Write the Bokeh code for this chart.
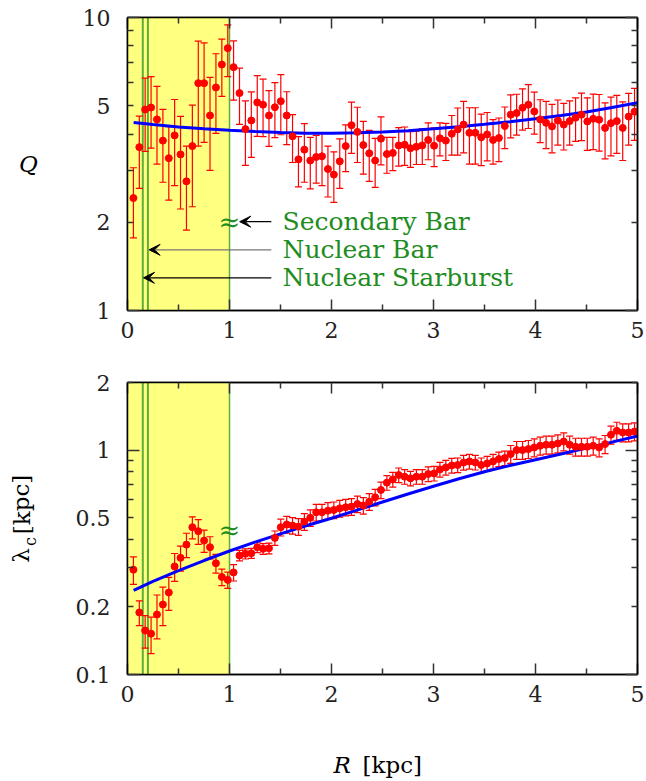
import numpy as np
from bokeh.plotting import figure
from bokeh.models import (ColumnDataSource, Whisker, TeeHead, BoxAnnotation, Span, Range1d,
                          FixedTicker, LinearAxis, LogAxis, Arrow, VeeHead)
from bokeh.layouts import column, row
from bokeh.core.properties import value
from bokeh.embed import file_html
from bokeh.resources import INLINE

# ---------------- data ----------------
R = [0.058, 0.116, 0.173, 0.231, 0.289, 0.347, 0.405, 0.462, 0.520, 0.578,
     0.636, 0.694, 0.751, 0.809, 0.867, 0.925, 0.983, 1.040, 1.098, 1.156,
     1.214, 1.272, 1.329, 1.387, 1.445, 1.503, 1.561, 1.618, 1.676, 1.734,
     1.792, 1.850, 1.907, 1.965, 2.023, 2.081, 2.139, 2.196, 2.254, 2.312,
     2.370, 2.428, 2.485, 2.543, 2.601, 2.659, 2.717, 2.774, 2.832, 2.890,
     2.948, 3.006, 3.063, 3.121, 3.179, 3.237, 3.295, 3.352, 3.410, 3.468,
     3.526, 3.584, 3.641, 3.699, 3.757, 3.815, 3.873, 3.930, 3.988, 4.046,
     4.104, 4.162, 4.219, 4.277, 4.335, 4.393, 4.451, 4.508, 4.566, 4.624,
     4.682, 4.740, 4.797, 4.855, 4.913, 4.971]

Q = [2.42, 3.61, 4.85, 4.93, 4.49, 3.80, 3.31, 3.96, 3.41, 2.76,
     3.64, 5.97, 5.97, 4.63, 5.77, 6.91, 7.86, 6.77, 5.52, 4.16,
     4.45, 5.13, 5.04, 4.63, 4.94, 5.18, 4.63, 3.93, 3.28, 3.54,
     3.25, 3.34, 3.36, 3.04, 2.91, 3.23, 3.64, 4.29, 4.07, 3.67,
     3.44, 3.25, 3.86, 3.42, 3.45, 3.66, 3.68, 3.58, 3.62, 3.66,
     3.82, 3.65, 3.87, 3.80, 4.01, 4.15, 4.31, 4.04, 4.04, 3.90,
     3.99, 3.82, 3.88, 4.26, 4.66, 4.72, 4.92, 5.04, 4.78, 4.49,
     4.37, 4.25, 4.45, 4.31, 4.43, 4.55, 4.66, 4.42, 4.51, 4.48,
     4.20, 4.36, 4.43, 4.20, 4.59, 4.77]

Q_err = [0.65, 1.00, 1.36, 1.35, 1.33, 1.06, 0.93, 1.29, 1.19, 0.88,
         1.38, 2.33, 2.22, 1.62, 1.75, 1.53, 1.58, 1.55, 1.20, 1.03,
         1.12, 1.20, 1.12, 1.00, 1.05, 1.20, 0.95, 0.73, 0.64, 0.80,
         0.65, 0.62, 0.69, 0.60, 0.57, 0.62, 0.66, 0.85, 0.87, 0.75,
         0.68, 0.62, 0.72, 0.48, 0.45, 0.55, 0.55, 0.50, 0.47, 0.51,
         0.55, 0.55, 0.50, 0.55, 0.62, 0.76, 0.86, 0.88, 0.88, 0.78,
         0.75, 0.66, 0.66, 0.69, 0.78, 0.75, 0.79, 0.86, 0.78, 0.75,
         0.80, 0.80, 0.78, 0.78, 0.76, 0.77, 0.86, 0.90, 0.97, 0.98,
         0.91, 0.99, 0.99, 0.95, 0.92, 0.96]

lam = [0.293, 0.189, 0.157, 0.152, 0.185, 0.205, 0.232, 0.303, 0.331, 0.379,
       0.453, 0.435, 0.395, 0.369, 0.313, 0.272, 0.264, 0.285, 0.339, 0.345,
       0.347, 0.369, 0.363, 0.365, 0.406, 0.453, 0.466, 0.461, 0.456, 0.480,
       0.499, 0.528, 0.528, 0.537, 0.541, 0.550, 0.556, 0.560, 0.575, 0.566,
       0.589, 0.616, 0.664, 0.716, 0.740, 0.774, 0.761, 0.748, 0.761, 0.761,
       0.782, 0.787, 0.820, 0.837, 0.854, 0.858, 0.880, 0.890, 0.881, 0.858,
       0.872, 0.890, 0.912, 0.921, 0.960, 1.000, 1.000, 1.010, 1.027, 1.045,
       1.056, 1.056, 1.070, 1.092, 1.056, 1.034, 1.034, 1.034, 1.045, 1.027,
       1.063, 1.170, 1.218, 1.197, 1.197, 1.210]

lam_err = [0.041, 0.024, 0.026, 0.028, 0.041, 0.040, 0.039, 0.043, 0.042, 0.047,
           0.051, 0.055, 0.045, 0.042, 0.030, 0.023, 0.022, 0.024, 0.018, 0.018,
           0.018, 0.020, 0.020, 0.020, 0.030, 0.039, 0.040, 0.039, 0.039, 0.041,
           0.042, 0.045, 0.045, 0.046, 0.046, 0.047, 0.047, 0.048, 0.049, 0.048,
           0.050, 0.052, 0.056, 0.054, 0.056, 0.058, 0.057, 0.056, 0.057, 0.057,
           0.059, 0.059, 0.062, 0.063, 0.064, 0.064, 0.066, 0.067, 0.066, 0.064,
           0.065, 0.067, 0.068, 0.069, 0.088, 0.092, 0.092, 0.093, 0.094, 0.096,
           0.097, 0.097, 0.098, 0.100, 0.097, 0.095, 0.095, 0.095, 0.096, 0.094,
           0.098, 0.108, 0.112, 0.110, 0.110, 0.111]

R_model = [0.06, 0.25, 0.5, 0.75, 1.0, 1.25, 1.5, 1.75, 2.0, 2.25, 2.5,
           2.75, 3.0, 3.25, 3.5, 3.75, 4.0, 4.25, 4.5, 4.75, 5.0]
Q_model = [4.38, 4.31, 4.23, 4.17, 4.12, 4.08, 4.05, 4.03, 4.03, 4.04, 4.07,
           4.11, 4.17, 4.24, 4.32, 4.41, 4.51, 4.63, 4.76, 4.93, 5.12]
lam_model = [0.237, 0.260, 0.290, 0.322, 0.355, 0.389, 0.423, 0.460, 0.497, 0.540, 0.587,
             0.637, 0.690, 0.745, 0.800, 0.853, 0.905, 0.960, 1.020, 1.085, 1.155]

x_ticks = [0, 1, 2, 3, 4, 5]
x_minor = [0.5, 1.5, 2.5, 3.5, 4.5]
Q_ticks = [1, 2, 5, 10]
Q_minor = [3, 4, 6, 7, 8, 9]
Q_long = [1, 10]
Q_short = [2, 3, 4, 5, 6, 7, 8, 9]
lam_ticks = [0.1, 0.2, 0.5, 1, 2]
lam_long = [0.1, 1]
lam_short = [0.2, 0.3, 0.4, 0.5, 0.6, 0.7, 0.8, 0.9, 2]

region_R = [0.0, 1.0]                 # shaded region
feature_R = [0.15, 0.2, 1.0]          # starburst, nuclear bar, secondary bar
feature_names = ["Nuclear Starburst", "Nuclear Bar", "Secondary Bar"]

# ---------------- style ----------------
SERIF = "DejaVu Serif"
GREEN_TXT = "#1e8c1e"
GREEN_LN = "#5fae3a"
YELLOW = "#ffff80"
TICK_FS = "22px"
LS = 60            # width of the left label strip
W = 646 - LS       # width of the panels
H1, H2, HX = 360, 354, 66
FRAME_L, FRAME_R = 127, 637


def style(ax, ticks, minor, long_in, short_in, labels, line=True):
    ax.ticker = FixedTicker(ticks=ticks, minor_ticks=minor)
    ax.major_tick_in = long_in
    ax.major_tick_out = 0
    ax.minor_tick_in = short_in
    ax.minor_tick_out = 0
    ax.axis_line_color = "black" if line else None
    ax.axis_line_width = 1.5
    ax.major_tick_line_color = "#333333" if long_in else None
    ax.minor_tick_line_color = "#333333" if short_in else None
    ax.major_tick_line_width = 1.5
    ax.minor_tick_line_width = 1.5
    if labels:
        ax.major_label_overrides = {t: ("%g" % t) for t in ticks}
        ax.major_label_text_font = SERIF
        ax.major_label_text_font_size = TICK_FS
        ax.major_label_text_color = "#222222"
    else:
        ax.major_label_overrides = {t: "" for t in ticks}
        ax.major_label_text_font_size = "0px"
        ax.major_label_standoff = 0


def base_fig(yr, height, top, bottom, ylab, ylong, yshort):
    p = figure(width=W, height=height, x_range=Range1d(0, 5), y_range=Range1d(*yr),
               y_axis_type="log", output_backend="svg", toolbar_location=None,
               min_border_left=FRAME_L - LS, min_border_right=646 - FRAME_R,
               min_border_top=top, min_border_bottom=bottom,
               background_fill_color="white", border_fill_color="white")
    p.grid.visible = False
    p.outline_line_color = "black"
    p.outline_line_width = 1.5
    xb = p.xaxis[0]
    style(xb, x_ticks, x_minor, 11, 6, True)
    xb.major_label_standoff = 11
    # inner left axis: tick marks only (long at decades, short elsewhere)
    yl = p.yaxis[0]
    style(yl, ylong, yshort, 12, 6, False)
    # outer left axis: the tick labels
    ylab_ax = LogAxis()
    style(ylab_ax, ylab, [], 0, 0, True, line=False)
    ylab_ax.major_label_standoff = 17
    p.add_layout(ylab_ax, "left")
    xt = LinearAxis()
    style(xt, x_ticks, x_minor, 11, 6, False)
    p.add_layout(xt, "above")
    yr_ax = LogAxis()
    style(yr_ax, ylong, yshort, 12, 6, False)
    p.add_layout(yr_ax, "right")
    p.add_layout(BoxAnnotation(left=region_R[0], right=region_R[1], fill_color=YELLOW,
                               fill_alpha=1.0, line_color=None, level="underlay"))
    for i, fr in enumerate(feature_R):
        p.add_layout(Span(location=fr, dimension="height", line_color=GREEN_LN,
                          line_width=2 if i < 2 else 1.5, level="underlay"))
    return p


def errorbars(p, src):
    p.add_layout(Whisker(base="R", upper="up", lower="lo", source=src, dimension="height",
                         line_color="red", line_width=1.2,
                         upper_head=TeeHead(size=7, line_color="red", line_width=1.2),
                         lower_head=TeeHead(size=7, line_color="red", line_width=1.2)))


def strip(w, h, xr):
    s = figure(width=w, height=h, x_range=Range1d(*xr), y_range=Range1d(0, h),
               output_backend="svg", toolbar_location=None, x_axis_location=None,
               y_axis_location=None, min_border=0, min_border_left=0, min_border_right=0,
               min_border_top=0, min_border_bottom=0)
    s.grid.visible = False
    s.outline_line_color = None
    return s


# ---------------- top panel: Q ----------------
p1 = base_fig((1, 10), H1, 17, 50, Q_ticks, Q_long, Q_short)
Qa, Qe = np.array(Q), np.array(Q_err)
src1 = ColumnDataSource(dict(R=R, Q=Q, up=Qa + Qe, lo=Qa - Qe))
errorbars(p1, src1)
p1.line(R_model, Q_model, line_color="#0000ff", line_width=3)
p1.scatter("R", "Q", source=src1, size=7, fill_color="red", line_color="red")

lab_y = [1.293, 1.611, 2.01]
tips = [0.157, 0.212, 1.10]
line_cols = ["black", "#777777", "black"]
for ty, tx, lc in zip(lab_y, tips, line_cols):
    p1.add_layout(Arrow(x_start=1.41, y_start=ty, x_end=tx, y_end=ty,
                        line_color=lc, line_width=1.3,
                        end=VeeHead(size=11, fill_color="black", line_color="black",
                                    line_width=1)))
p1.text(x=[1.52, 1.52, 1.52], y=lab_y, text=feature_names,
        text_font=value(SERIF), text_font_size="25px", text_color=GREEN_TXT,
        text_align="left", text_baseline="middle")
p1.text(x=[1.0], y=[2.01], text=["≈"], text_font=value(SERIF), text_font_size="26px",
        text_color=GREEN_TXT, text_align="center", text_baseline="middle")

# ---------------- bottom panel: lambda_c ----------------
p2 = base_fig((0.1, 2), H2, 22, 40, lam_ticks, lam_long, lam_short)
La, Le = np.array(lam), np.array(lam_err)
src2 = ColumnDataSource(dict(R=R, L=lam, up=La + Le, lo=La - Le))
errorbars(p2, src2)
p2.line(R_model, lam_model, line_color="#0000ff", line_width=3)
p2.scatter("R", "L", source=src2, size=7, fill_color="red", line_color="red")
p2.text(x=[1.0], y=[0.44], text=["≈"], text_font=value(SERIF), text_font_size="26px",
        text_color=GREEN_TXT, text_align="center", text_baseline="middle")

# ---------------- axis-title strips (coordinates = page pixels) ----------------
HT = H1 + H2 + HX
left = strip(LS, HT, (0, LS))
left.text(x=[28], y=[HT - 163], text=["Q"], text_font=value(SERIF),
          text_font_style="italic", text_font_size="23px", text_color="black",
          text_align="center", text_baseline="middle")
left.text(x=[20, 30, 21], y=[HT - 555, HT - 541, HT - 504], text=["λ", "c", "[kpc]"],
          text_font=value(SERIF), text_font_size=["23px", "16px", "23px"],
          angle=[np.pi / 2] * 3, text_color="black", text_align="center",
          text_baseline="middle")

# bottom strip: its frame is aligned with the panels' frames (page x 127..637)
bottom = strip(W, HX, (FRAME_L, FRAME_R))
YB = HT - 764
bottom.text(x=[333, 362], y=[YB, YB], text=["R", "[kpc]"],
            text_font=value(SERIF), text_font_style=["italic", "normal"],
            text_font_size="23px", text_color="black", text_align="left",
            text_baseline="middle")

layout = row(left, column(p1, p2, bottom, spacing=0), spacing=0)
open("out.html", "w").write(file_html(layout, INLINE))
